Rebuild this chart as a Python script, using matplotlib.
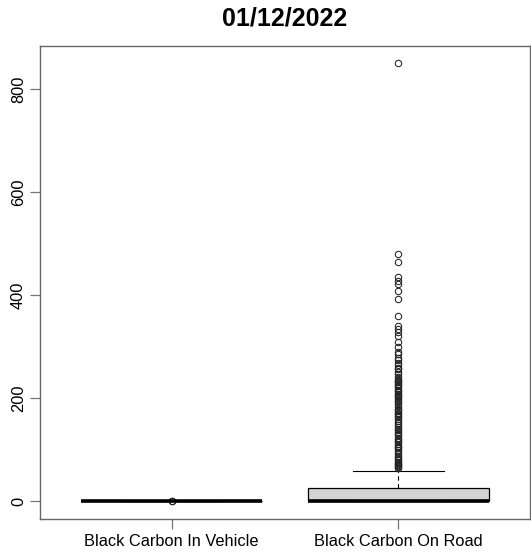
import matplotlib
matplotlib.use("Agg")
from matplotlib import pyplot as plt

plt.rcParams['font.family'] = ['Liberation Sans', 'DejaVu Sans']

# data
labels = ['Black Carbon In Vehicle', 'Black Carbon On Road']
box_q1 = [0.0, 0.2]
box_med = [0.0, 1.0]
box_q3 = [0.0, 26.0]
whisk_lo = [0.0, 0.0]
whisk_hi = [0.0, 59.5]
in_vehicle_fliers = [1.0, 1.6]
on_road_fliers = [850, 480, 464, 435, 428, 422, 409, 393, 360, 340, 335, 328, 320, 309,
                  300, 290, 286, 279, 274, 269, 264, 259, 256, 251, 247, 241, 237, 234,
                  233, 231, 228, 226, 224, 220, 217, 214, 212, 209, 207, 204, 202, 199,
                  195, 192, 190, 185, 180, 177, 175, 172, 170, 166, 163, 160, 157, 152,
                  148, 144, 141, 138, 135, 131, 128, 124, 121, 118, 115, 111, 108, 106,
                  103, 99, 96, 92, 89, 86, 83, 80, 77, 75, 73, 70, 68, 66, 64]
fliers = [in_vehicle_fliers, on_road_fliers]
yticks = [0, 200, 400, 600, 800]

stats = []
for i in range(len(labels)):
    stats.append({'q1': box_q1[i], 'med': box_med[i], 'q3': box_q3[i],
                  'whislo': whisk_lo[i], 'whishi': whisk_hi[i],
                  'fliers': fliers[i], 'label': labels[i]})

fig = plt.figure(figsize=(5.31, 5.56), dpi=100)
ax = fig.add_axes([40/531, 1-519/556, 490/531, (519-45.7)/556])

ax.bxp(stats, positions=[1, 2], widths=0.8, patch_artist=True,
       boxprops=dict(facecolor='#D3D3D3', edgecolor='black', linewidth=0.9),
       medianprops=dict(color='black', linewidth=2.6),
       whiskerprops=dict(color='black', linewidth=0.8, linestyle=(0, (4, 3))),
       capprops=dict(color='black', linewidth=0.8),
       flierprops=dict(marker='o', markerfacecolor='none', markeredgecolor='#222222',
                       markersize=4.6, markeredgewidth=0.75))

# R style 4% padding of the data range
max_val = max(on_road_fliers)
ax.set_ylim(-0.04*max_val, max_val*1.04)
ax.set_xlim(0.42, 2.58)
ax.set_yticks(yticks)
ax.set_yticklabels([str(t) for t in yticks], rotation=90, va='center')

for s in ax.spines.values():
    s.set_color('#666666')
    s.set_linewidth(1.0)
ax.tick_params(direction='out', length=7, width=0.9, color='#777777',
               labelsize=11.8, pad=4)
ax.tick_params(axis='y', pad=3)

fig.text((40+530)/2/531, 1-18.5/556, '01/12/2022', ha='center', va='center',
         fontsize=18, fontweight='bold')

fig.savefig('out.png', dpi=100)
